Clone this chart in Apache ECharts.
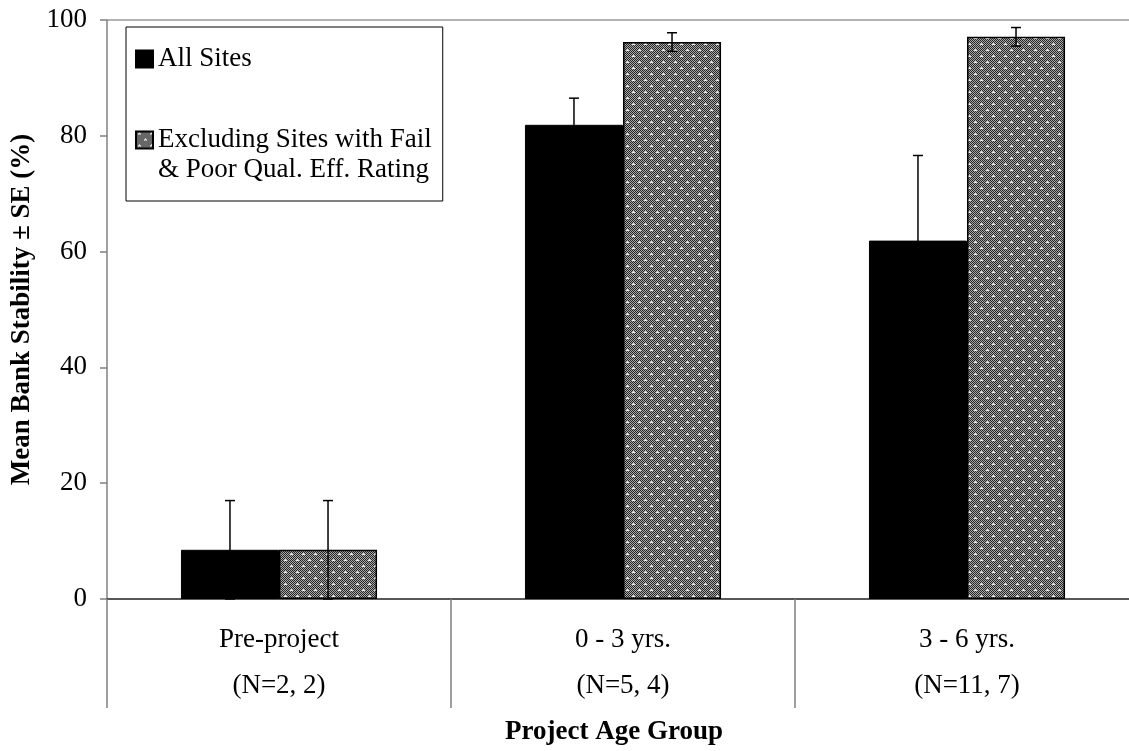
<!DOCTYPE html>
<html>
<head>
<meta charset="utf-8">
<script src="https://cdn.jsdelivr.net/npm/echarts@6/dist/echarts.min.js"></script>
<style>
html,body{margin:0;padding:0;background:#fff;overflow:hidden;}
#chart{width:1129px;height:751px;}
</style>
</head>
<body>
<div id="chart"></div>
<script>
// ---- data ----
const categories = ['Pre-project', '0 - 3 yrs.', '3 - 6 yrs.'];
const sampleSizes = ['(N=2, 2)', '(N=5, 4)', '(N=11, 7)'];
const seriesNames = ['All Sites', 'Excluding Sites with Fail\n& Poor Qual. Eff. Rating'];
const allSitesMean = [8.5, 81.9, 61.9];
const allSitesSE = [8.5, 4.6, 14.7];
const excludingMean = [8.5, 96.2, 97.1];
const excludingSE = [8.5, 1.6, 1.6];
const yTicks = [0, 20, 40, 60, 80, 100];

// ---- pattern tile ----
function makePattern() {
  const c = document.createElement('canvas');
  c.width = 12; c.height = 12;
  const g = c.getContext('2d');
  for (let y = 0; y < 12; y++) {
    for (let x = 0; x < 12; x++) {
      g.fillStyle = ((x + y) % 2 === 0) ? '#262626' : '#a8a8a8';
      g.fillRect(x, y, 1, 1);
    }
  }
  function dot(cx, cy) {
    g.fillStyle = '#ffffff';
    g.fillRect(cx, cy, 1, 1);
    g.fillStyle = '#dcdcdc';
    g.fillRect(cx - 1, cy, 1, 1);
    g.fillRect(cx + 1, cy, 1, 1);
    g.fillRect(cx, cy - 1, 1, 1);
  }
  dot(3, 2);
  dot(9, 8);
  return c;
}
const patternFill = { image: makePattern(), repeat: 'repeat' };

const BAR_FRAC = 0.285;
const FONT = 'Liberation Serif, Times New Roman, serif';
const FS = 27;

function errorRenderer(side) {
  return function (params, api) {
    const ci = api.value(0), m = api.value(1), se = api.value(2);
    const band = api.size([1, 0])[0];
    const off = side * band * BAR_FRAC / 2;
    const x = api.coord([ci, m])[0] + off;
    const yTop = api.coord([ci, m + se])[1];
    const yBot = api.coord([ci, Math.max(m - se, 0)])[1];
    const cap = 5;
    const style = { stroke: '#000', lineWidth: 1.5 };
    return {
      type: 'group',
      children: [
        { type: 'line', shape: { x1: x, y1: yTop, x2: x, y2: yBot }, style: style },
        { type: 'line', shape: { x1: x - cap, y1: yTop, x2: x + cap, y2: yTop }, style: style },
        { type: 'line', shape: { x1: x - cap, y1: yBot, x2: x + cap, y2: yBot }, style: style }
      ]
    };
  };
}

const chart = echarts.init(document.getElementById('chart'), null, { renderer: 'canvas' });
const option = {
  animation: false,
  backgroundColor: '#fff',
  textStyle: { fontFamily: FONT, color: '#000' },
  grid: { left: 107, top: 20, width: 1032, bottom: 152, containLabel: false, outerBoundsMode: 'none' },
  legend: {
    orient: 'vertical',
    left: 126,
    top: 27,
    padding: [17, 11, 16, 9],
    itemGap: 21,
    itemWidth: 17,
    itemHeight: 17,
    icon: 'rect',
    borderColor: '#000',
    borderWidth: 1,
    backgroundColor: '#fff',
    textStyle: { fontFamily: FONT, fontSize: FS, lineHeight: 30, color: '#000' },
    formatter: function (name) { return name === seriesNames[1] ? '\n' + name : name; },
    data: [seriesNames[0], seriesNames[1]]
  },
  xAxis: {
    type: 'category',
    data: categories.map((c, i) => c + '\n' + sampleSizes[i]),
    name: 'Project Age Group',
    nameLocation: 'middle',
    nameGap: 120,
    nameTextStyle: { fontFamily: FONT, fontSize: FS, fontWeight: 'bold', color: '#000', padding: [0, 18, 0, 0] },
    axisLine: { show: true, lineStyle: { color: '#222', width: 1.5 } },
    axisTick: { show: true, length: 109, interval: 0, alignWithLabel: false, lineStyle: { color: '#808080', width: 1.5 } },
    axisLabel: { margin: 18, fontFamily: FONT, fontSize: FS, lineHeight: 46, color: '#000', interval: 0 },
    splitLine: { show: false }
  },
  yAxis: {
    type: 'value',
    min: yTicks[0],
    max: yTicks[yTicks.length - 1],
    interval: yTicks[1] - yTicks[0],
    name: 'Mean Bank Stability \u00b1 SE (%)',
    nameLocation: 'middle',
    nameGap: 70,
    nameTextStyle: { fontFamily: FONT, fontSize: FS, fontWeight: 'bold', color: '#000' },
    axisLine: { show: true, lineStyle: { color: '#808080', width: 1.5 } },
    axisTick: { show: true, length: 7, inside: false, lineStyle: { color: '#808080', width: 1.5 } },
    axisLabel: { margin: 20, fontFamily: FONT, fontSize: FS, color: '#000' },
    splitLine: { show: true, lineStyle: { color: ['rgba(0,0,0,0)', 'rgba(0,0,0,0)', 'rgba(0,0,0,0)', 'rgba(0,0,0,0)', 'rgba(0,0,0,0)', '#9a9a9a'], width: 1.5 } }
  },
  series: [
    {
      name: seriesNames[0], type: 'bar', data: allSitesMean,
      barWidth: (BAR_FRAC * 100) + '%', barGap: '0%',
      itemStyle: { color: '#000', borderColor: '#000', borderWidth: 1 },
      z: 2
    },
    {
      name: seriesNames[1], type: 'bar', data: excludingMean,
      barWidth: (BAR_FRAC * 100) + '%', barGap: '0%',
      itemStyle: { color: patternFill, borderColor: '#000', borderWidth: 1.5 },
      z: 2
    },
    {
      name: 'errA', type: 'custom', renderItem: errorRenderer(-1),
      data: allSitesMean.map((v, i) => [i, v, allSitesSE[i]]),
      encode: { x: 0, y: 1 }, z: 5, silent: true
    },
    {
      name: 'errB', type: 'custom', renderItem: errorRenderer(1),
      data: excludingMean.map((v, i) => [i, v, excludingSE[i]]),
      encode: { x: 0, y: 1 }, z: 5, silent: true
    }
  ]
};
chart.setOption(option);
</script>
</body>
</html>
